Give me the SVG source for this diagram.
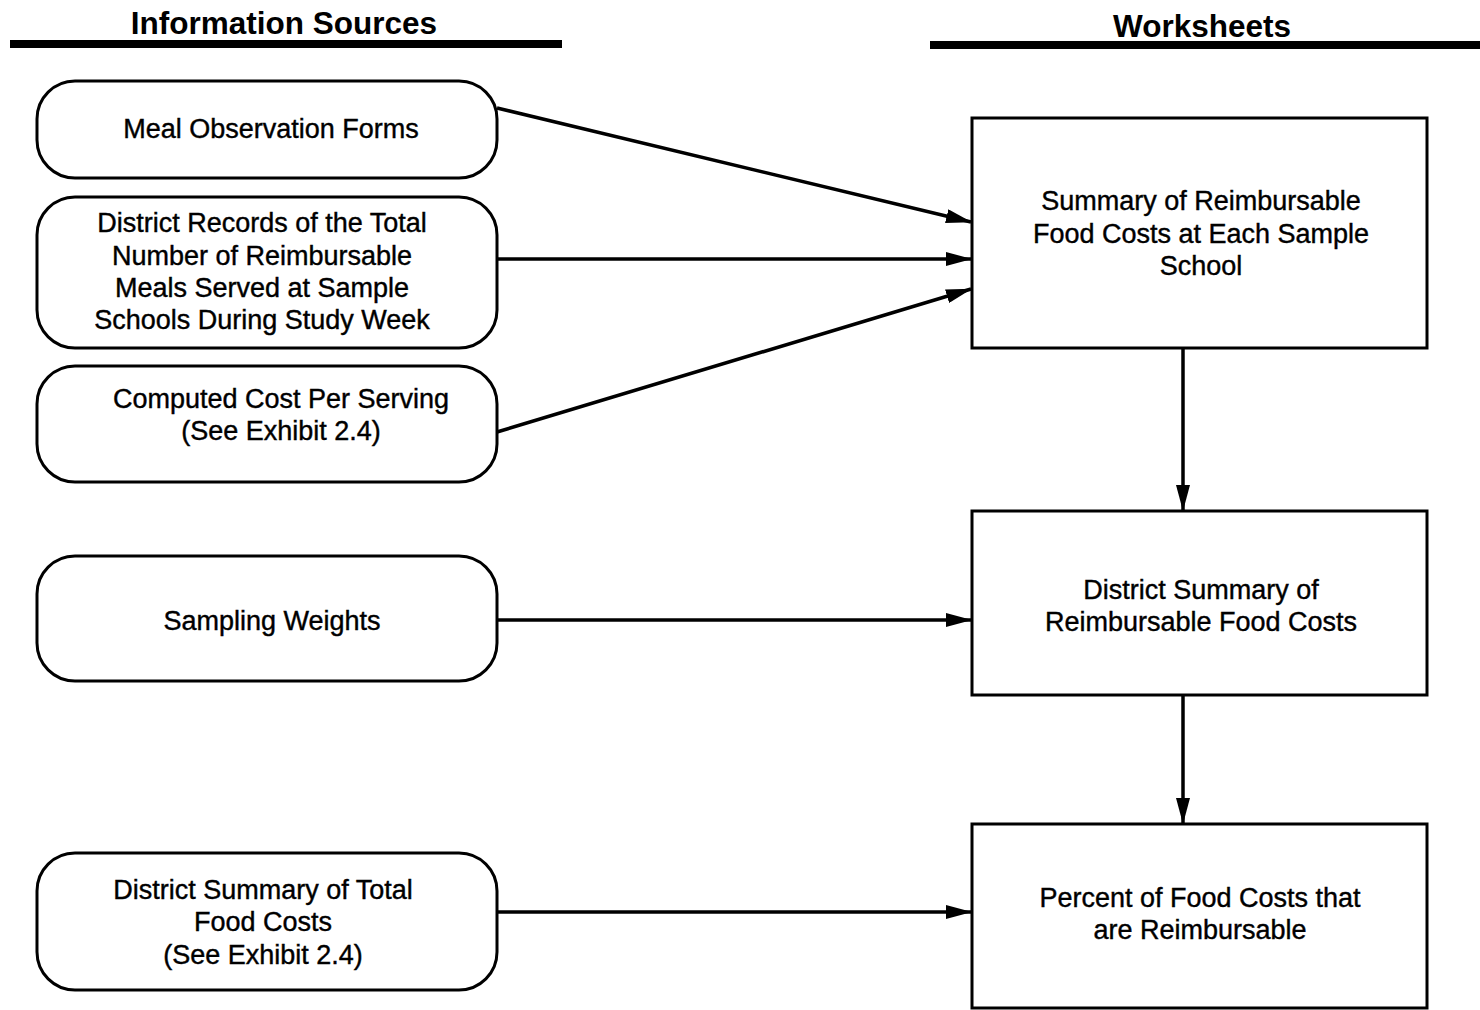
<svg xmlns="http://www.w3.org/2000/svg" width="1480" height="1010" viewBox="0 0 1480 1010">
<defs>
<style>
.hdr{font-family:"Liberation Sans",Arial,sans-serif;font-weight:bold;font-size:31.5px;fill:#000;text-anchor:middle}
.t{font-family:"Liberation Sans",Arial,sans-serif;font-size:27px;fill:#000;stroke:#000;stroke-width:0.4;text-anchor:middle}
.src{fill:#fff;stroke:#000;stroke-width:3}
.ws{fill:#fff;stroke:#000;stroke-width:3}
.c{stroke:#000;stroke-width:3.5;fill:none;marker-end:url(#ah)}
</style>
<marker id="ah" viewBox="0 0 26 14" refX="25" refY="7" markerWidth="26" markerHeight="14" markerUnits="userSpaceOnUse" orient="auto">
<path d="M0,0 L26,7 L0,14 Z" fill="#000"/>
</marker>
</defs>
<rect width="1480" height="1010" fill="#fff"/>
<g id="header-sources">
<text class="hdr" x="284" y="34">Information Sources</text>
<rect x="10" y="40" width="552" height="8" fill="#000"/>
</g>
<g id="header-worksheets">
<text class="hdr" x="1202" y="37">Worksheets</text>
<rect x="930" y="41" width="550" height="8" fill="#000"/>
</g>
<g id="src1"><rect class="src" x="37" y="81" width="460" height="97" rx="38"/>
<text class="t" x="271" y="138">Meal Observation Forms</text></g>
<g id="src2"><rect class="src" x="37" y="197" width="460" height="151" rx="38"/>
<text class="t" x="262" y="232">District Records of the Total</text>
<text class="t" x="262" y="265">Number of Reimbursable</text>
<text class="t" x="262" y="297">Meals Served at Sample</text>
<text class="t" x="262" y="329">Schools During Study Week</text></g>
<g id="src3"><rect class="src" x="37" y="366" width="460" height="116" rx="38"/>
<text class="t" x="281" y="408">Computed Cost Per Serving</text>
<text class="t" x="281" y="440">(See Exhibit 2.4)</text></g>
<g id="src4"><rect class="src" x="37" y="556" width="460" height="125" rx="38"/>
<text class="t" x="272" y="630">Sampling Weights</text></g>
<g id="src5"><rect class="src" x="37" y="853" width="460" height="137" rx="38"/>
<text class="t" x="263" y="899">District Summary of Total</text>
<text class="t" x="263" y="931">Food Costs</text>
<text class="t" x="263" y="964">(See Exhibit 2.4)</text></g>
<g id="ws1"><rect class="ws" x="972" y="118" width="455" height="230"/>
<text class="t" x="1201" y="210">Summary of Reimbursable</text>
<text class="t" x="1201" y="243">Food Costs at Each Sample</text>
<text class="t" x="1201" y="275">School</text></g>
<g id="ws2"><rect class="ws" x="972" y="511" width="455" height="184"/>
<text class="t" x="1201" y="599">District Summary of</text>
<text class="t" x="1201" y="631">Reimbursable Food Costs</text></g>
<g id="ws3"><rect class="ws" x="972" y="824" width="455" height="184"/>
<text class="t" x="1200" y="907">Percent of Food Costs that</text>
<text class="t" x="1200" y="939">are Reimbursable</text></g>
<g id="connectors">
<line class="c" x1="497" y1="108" x2="971" y2="222"/>
<line class="c" x1="497" y1="259" x2="971" y2="259"/>
<line class="c" x1="497" y1="432" x2="971" y2="289"/>
<line class="c" x1="497" y1="620" x2="971" y2="620"/>
<line class="c" x1="497" y1="912" x2="971" y2="912"/>
<line class="c" x1="1183" y1="348" x2="1183" y2="510"/>
<line class="c" x1="1183" y1="695" x2="1183" y2="823"/>
</g>
</svg>
